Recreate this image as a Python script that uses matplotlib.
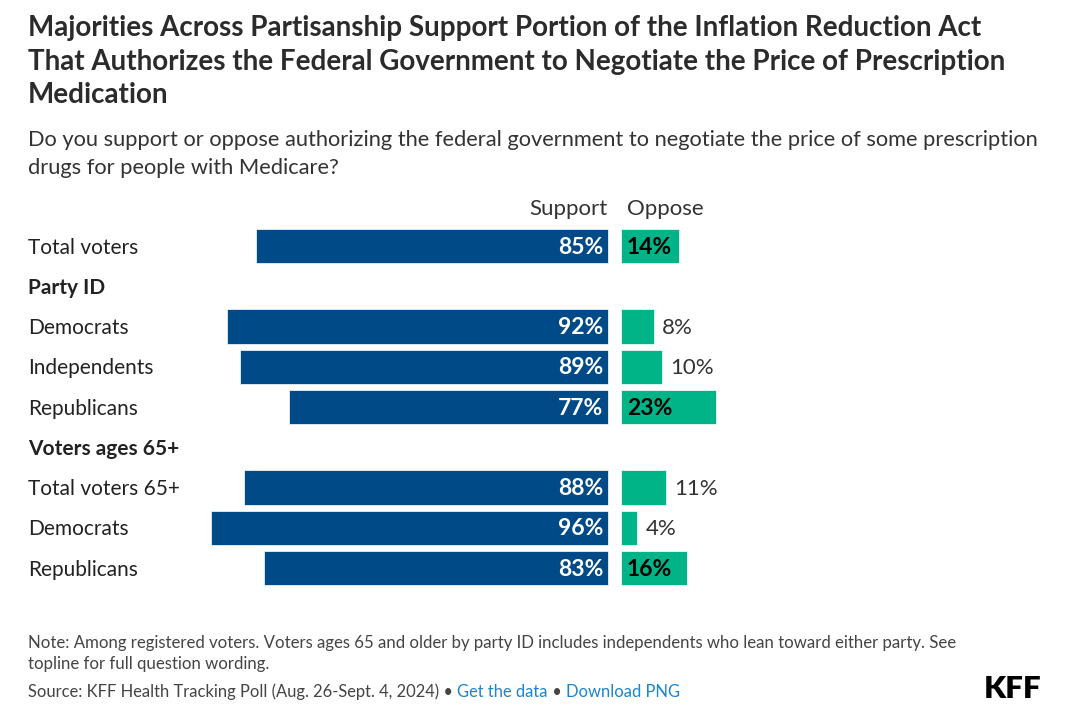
import matplotlib
matplotlib.use("Agg")
import matplotlib.pyplot as plt
from matplotlib.transforms import blended_transform_factory

plt.rcParams['font.family'] = ['Lato', 'DejaVu Sans']

# data
labels = ["Total voters", "Party ID", "Democrats", "Independents", "Republicans",
          "Voters ages 65+", "Total voters 65+", "Democrats", "Republicans"]
is_heading = [False, True, False, False, False, True, False, False, False]
support = [85, None, 92, 89, 77, None, 88, 96, 83]
oppose = [14, None, 8, 10, 23, None, 11, 4, 16]

BLUE = "#004a87"
GREEN = "#00b488"
TEXT = "#333333"
GAP = 3.1  # space between the two bar columns, in % units

W, H = 1078, 720
fig = plt.figure(figsize=(W / 100, H / 100), dpi=100)

# axes so that 1% ~ 4.14 px and rows are ~40 px apart
px_per = 4.14
x0 = 608
xl, xr = -100, 40
left_px = x0 + xl * px_per
right_px = x0 + xr * px_per
row_h = 40.25
top_px = 246 - 0.5 * row_h
bot_px = 246 + 8.5 * row_h
ax = fig.add_axes([left_px / W, 1 - bot_px / H,
                   (right_px - left_px) / W, (bot_px - top_px) / H])
ax.set_xlim(xl, xr)
ax.set_ylim(len(labels) - 0.5, -0.5)
ax.axis("off")

tr = blended_transform_factory(fig.transFigure, ax.transData)
for i, lab in enumerate(labels):
    ax.text(28 / W, i + 0.04, lab, transform=tr, ha="left", va="center",
            fontsize=15, color="#222222",
            fontweight="bold" if is_heading[i] else "normal")
    if support[i] is None:
        continue
    ax.barh(i, -support[i], height=0.85, color=BLUE, edgecolor="white", linewidth=0.5)
    ax.barh(i, oppose[i], left=GAP, height=0.85, color=GREEN, edgecolor="white", linewidth=0.5)
    ax.text(-1.2, i + 0.03, f"{support[i]}%", ha="right", va="center",
            fontsize=16.5, fontweight="bold", color="white")
    if oppose[i] >= 12:
        ax.text(GAP + 1.5, i + 0.03, f"{oppose[i]}%", ha="left", va="center",
                fontsize=16.5, fontweight="bold", color="black")
    else:
        ax.text(GAP + oppose[i] + 2.0, i + 0.03, f"{oppose[i]}%", ha="left", va="center",
                fontsize=16, color=TEXT)

ax.text(0, -0.92, "Support", ha="right", va="center", fontsize=16, color=TEXT)
ax.text(GAP + 1.5, -0.92, "Oppose", ha="left", va="center", fontsize=16, color=TEXT)

# title and subtitle
fig.text(28 / W, 1 - 15 / H,
         "Majorities Across Partisanship Support Portion of the Inflation Reduction Act\n"
         "That Authorizes the Federal Government to Negotiate the Price of Prescription\n"
         "Medication",
         ha="left", va="top", fontsize=20, fontweight="bold", color="#2b2b2b",
         linespacing=1.36)
fig.text(28 / W, 1 - 130 / H,
         "Do you support or oppose authorizing the federal government to negotiate the price of some prescription\n"
         "drugs for people with Medicare?",
         ha="left", va="top", fontsize=15.75, color=TEXT, linespacing=1.47)

# footer
fig.text(28 / W, 1 - 635 / H,
         "Note: Among registered voters. Voters ages 65 and older by party ID includes independents who lean toward either party. See\n"
         "topline for full question wording.",
         ha="left", va="top", fontsize=12.1, color="#444444", linespacing=1.4)

pieces = [("Source: KFF Health Tracking Poll (Aug. 26-Sept. 4, 2024) \u2022 ", "#444444"),
          ("Get the data", "#1a85d0"),
          (" \u2022 ", "#444444"),
          ("Download PNG", "#1a85d0")]
fig.canvas.draw()
renderer = fig.canvas.get_renderer()
xpos = 28
for txt, col in pieces:
    t = fig.text(xpos / W, 1 - 692 / H, txt, ha="left", va="center",
                 fontsize=11.9, color=col)
    bb = t.get_window_extent(renderer=renderer)
    xpos += bb.width

fig.text(1041 / W, 1 - 689 / H, "KFF", ha="right", va="center",
         fontsize=22.5, fontweight="heavy", color="black")

fig.savefig("out.png", dpi=100)
